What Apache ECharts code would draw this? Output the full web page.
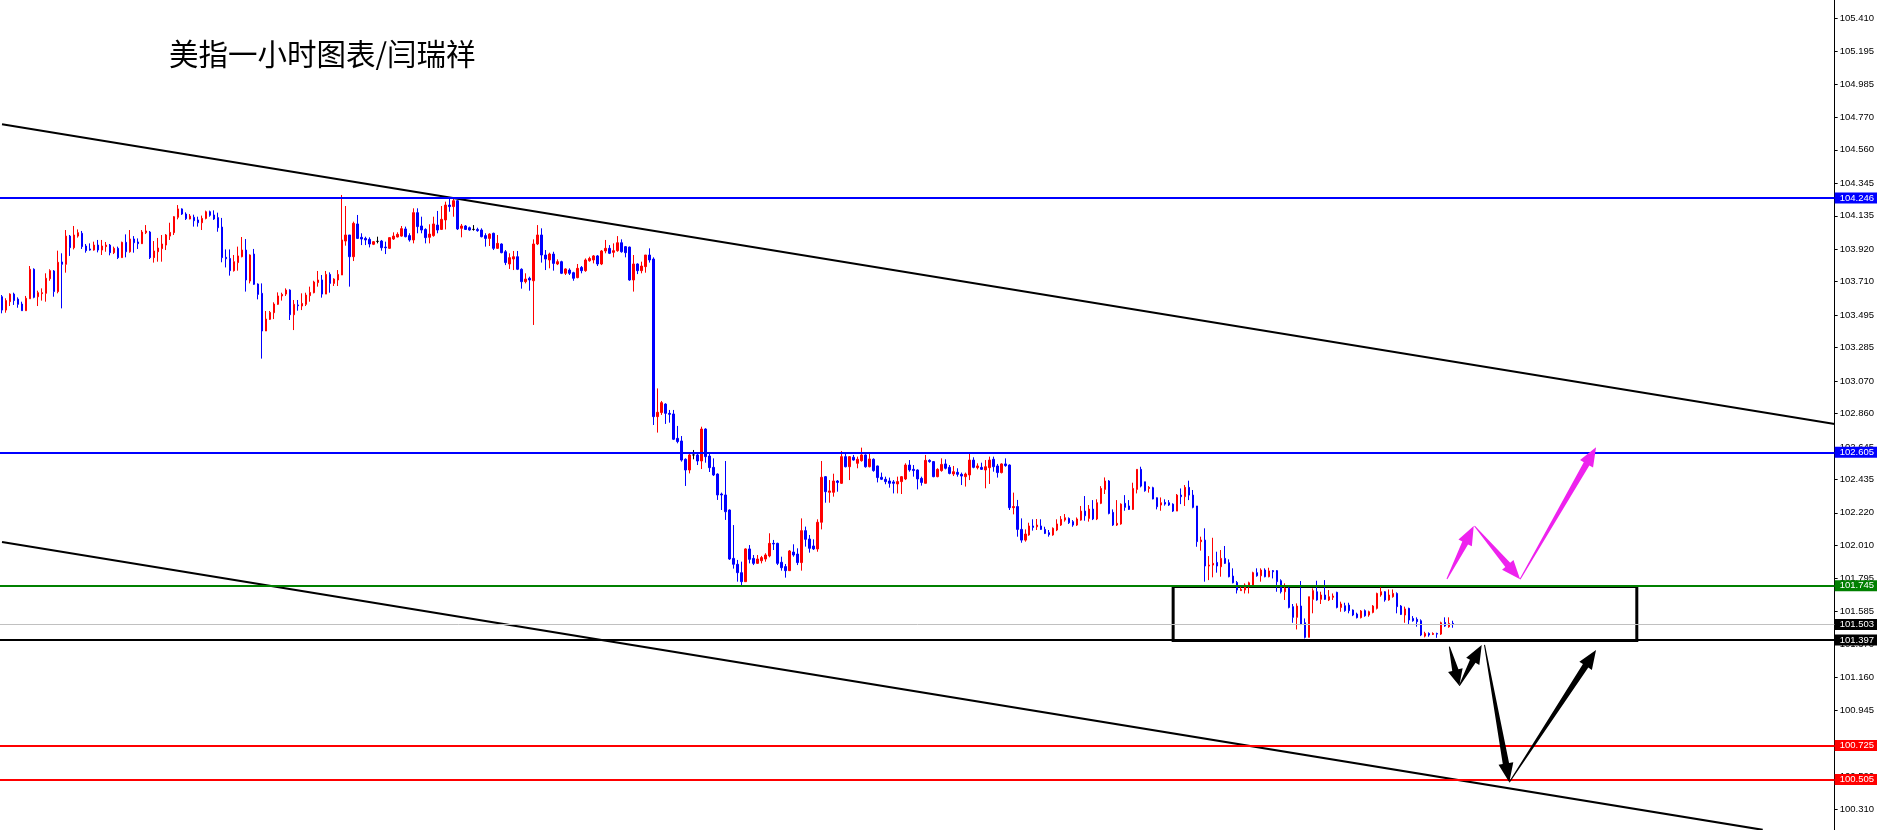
<!DOCTYPE html>
<html><head><meta charset="utf-8">
<script src="https://cdn.jsdelivr.net/npm/echarts@6/dist/echarts.min.js"></script>
<style>html,body{margin:0;padding:0;background:#fff}#c{width:1877px;height:830px}</style>
</head><body><div id="c"></div>
<script>
const TITLE = '美指一小时图表/闫瑞祥';
const SLOTS = 459;
// [open, close, low, high] per hourly bar
const bars = [
[103.613,103.527,103.506,103.624],[103.527,103.588,103.510,103.603],[103.581,103.630,103.553,103.635],[103.630,103.588,103.560,103.639],
[103.598,103.564,103.542,103.609],[103.566,103.523,103.523,103.581],[103.523,103.603,103.523,103.618],[103.600,103.790,103.600,103.811],
[103.790,103.609,103.603,103.796],[103.613,103.639,103.553,103.652],[103.633,103.639,103.588,103.667],[103.635,103.732,103.581,103.764],
[103.729,103.781,103.716,103.790],[103.779,103.646,103.613,103.785],[103.646,103.835,103.635,103.910],[103.837,103.822,103.538,103.893],
[103.822,104.004,103.768,104.043],[104.004,103.929,103.876,104.011],[103.929,104.011,103.918,104.069],[104.004,104.026,103.994,104.047],
[104.022,103.936,103.921,104.037],[103.940,103.910,103.897,103.953],[103.921,103.914,103.910,103.957],[103.914,103.946,103.910,103.968],
[103.946,103.914,103.899,103.979],[103.914,103.940,103.882,103.979],[103.936,103.946,103.903,103.966],[103.946,103.897,103.880,103.953],
[103.897,103.925,103.888,103.936],[103.925,103.865,103.856,103.936],[103.865,103.964,103.865,103.968],[103.964,103.903,103.867,104.015],
[103.903,103.985,103.897,104.043],[103.985,103.961,103.897,104.004],[103.966,103.955,103.921,103.989],[103.955,104.030,103.953,104.043],
[104.026,104.037,104.017,104.075],[104.030,103.865,103.856,104.037],[103.865,103.908,103.833,103.972],[103.903,103.927,103.839,103.992],
[103.923,103.953,103.839,104.011],[103.946,104.011,103.914,104.017],[104.004,104.028,103.979,104.090],[104.026,104.129,104.011,104.133],
[104.125,104.179,104.112,104.204],[104.179,104.146,104.140,104.183],[104.146,104.116,104.108,104.157],[104.114,104.133,104.112,104.146],
[104.125,104.103,104.065,104.142],[104.108,104.090,104.065,104.129],[104.090,104.118,104.043,104.136],[104.118,104.161,104.112,104.168],
[104.161,104.138,104.129,104.168],[104.140,104.114,104.108,104.170],[104.123,104.058,104.032,104.155],[104.062,103.865,103.835,104.121],
[103.867,103.858,103.802,103.918],[103.860,103.781,103.749,103.918],[103.781,103.839,103.775,103.882],[103.833,103.876,103.781,103.936],
[103.871,103.914,103.867,103.998],[103.914,103.721,103.646,103.985],[103.714,103.882,103.699,103.886],[103.888,103.693,103.689,103.921],
[103.695,103.628,103.596,103.699],[103.635,103.392,103.214,103.699],[103.392,103.469,103.392,103.521],[103.467,103.512,103.463,103.521],
[103.510,103.566,103.469,103.577],[103.564,103.618,103.560,103.641],[103.618,103.628,103.588,103.639],[103.630,103.656,103.618,103.667],
[103.656,103.497,103.463,103.661],[103.497,103.564,103.398,103.592],[103.560,103.555,103.523,103.592],[103.553,103.570,103.527,103.635],
[103.564,103.624,103.553,103.639],[103.620,103.641,103.581,103.678],[103.639,103.708,103.635,103.716],[103.704,103.721,103.678,103.779],
[103.721,103.630,103.607,103.753],[103.630,103.757,103.630,103.779],[103.757,103.699,103.639,103.770],[103.699,103.727,103.682,103.732],
[103.721,103.757,103.682,103.785],[103.753,103.979,103.753,104.269],[103.972,104.011,103.942,104.198],[104.011,103.871,103.678,104.011],
[103.871,104.086,103.843,104.097],[104.082,103.989,103.985,104.140],[103.996,103.985,103.946,104.022],[103.989,103.979,103.946,104.000],
[103.983,103.953,103.931,103.996],[103.951,103.968,103.946,103.972],[103.970,103.970,103.957,104.000],[103.972,103.929,103.910,103.979],
[103.933,103.929,103.888,103.968],[103.925,103.994,103.921,103.996],[103.985,104.004,103.979,104.028],[103.998,104.015,103.996,104.028],
[104.004,104.052,104.000,104.069],[104.050,104.000,103.996,104.065],[104.007,103.979,103.968,104.022],[103.979,104.155,103.957,104.183],
[104.155,104.065,104.022,104.183],[104.069,104.043,104.022,104.129],[104.047,103.994,103.957,104.054],[103.996,104.017,103.957,104.080],
[104.007,104.082,104.000,104.129],[104.075,104.043,104.022,104.166],[104.047,104.112,104.043,104.198],[104.108,104.204,104.047,104.226],
[104.204,104.194,104.161,104.247],[104.194,104.232,104.129,104.247],[104.232,104.050,104.043,104.237],[104.054,104.069,103.996,104.082],
[104.069,104.047,104.043,104.075],[104.058,104.043,104.039,104.065],[104.047,104.047,104.039,104.075],[104.047,104.039,104.032,104.058],
[104.043,104.000,103.996,104.054],[104.007,103.989,103.936,104.022],[103.989,104.017,103.940,104.022],[104.022,103.925,103.914,104.026],
[103.925,103.957,103.921,104.011],[103.953,103.897,103.893,103.957],[103.903,103.833,103.817,103.914],[103.824,103.865,103.792,103.893],
[103.856,103.871,103.785,103.908],[103.871,103.790,103.785,103.908],[103.790,103.710,103.665,103.796],[103.710,103.727,103.699,103.764],
[103.732,103.721,103.652,103.742],[103.716,103.953,103.431,103.983],[103.953,104.011,103.946,104.075],[104.011,103.882,103.833,104.054],
[103.882,103.856,103.785,103.914],[103.850,103.888,103.796,103.897],[103.888,103.828,103.781,103.903],[103.824,103.839,103.817,103.854],
[103.839,103.764,103.759,103.845],[103.764,103.792,103.753,103.796],[103.785,103.764,103.753,103.796],[103.768,103.732,103.716,103.774],
[103.736,103.796,103.732,103.824],[103.802,103.781,103.764,103.811],[103.781,103.850,103.774,103.860],[103.845,103.860,103.839,103.871],
[103.850,103.876,103.828,103.882],[103.876,103.824,103.811,103.882],[103.824,103.908,103.817,103.914],[103.908,103.925,103.893,103.979],
[103.925,103.893,103.888,103.946],[103.899,103.910,103.867,103.957],[103.910,103.961,103.903,104.004],[103.961,103.903,103.897,103.983],
[103.936,103.897,103.867,103.940],[103.933,103.721,103.716,103.936],[103.721,103.824,103.646,103.882],[103.824,103.781,103.759,103.828],
[103.781,103.811,103.764,103.839],[103.807,103.882,103.768,103.882],[103.882,103.850,103.833,103.925],[103.856,102.840,102.786,103.867],
[102.840,102.868,102.737,103.022],[102.866,102.930,102.851,102.941],[102.921,102.861,102.793,102.926],[102.861,102.855,102.801,102.883],
[102.857,102.694,102.689,102.883],[102.700,102.679,102.668,102.780],[102.683,102.560,102.550,102.715],[102.565,102.496,102.393,102.571],
[102.496,102.593,102.474,102.599],[102.593,102.593,102.565,102.625],[102.593,102.554,102.528,102.603],[102.554,102.760,102.502,102.775],
[102.760,102.582,102.543,102.765],[102.586,102.511,102.483,102.603],[102.513,102.464,102.457,102.571],[102.470,102.335,102.303,102.474],
[102.341,102.335,102.238,102.350],[102.335,102.227,102.174,102.554],[102.238,101.922,101.916,102.242],[101.926,101.888,101.860,102.141],
[101.888,101.834,101.776,101.916],[101.834,101.776,101.748,101.905],[101.776,101.987,101.776,101.991],[101.987,101.920,101.894,102.012],
[101.926,101.894,101.883,101.948],[101.894,101.922,101.890,101.948],[101.911,101.931,101.894,101.942],[101.922,101.948,101.905,101.959],
[101.942,102.023,101.933,102.088],[102.023,102.019,101.980,102.045],[102.023,101.894,101.883,102.027],[101.901,101.866,101.847,101.937],
[101.873,101.847,101.802,101.890],[101.847,101.974,101.847,101.980],[101.967,101.948,101.937,102.017],[101.954,101.899,101.883,101.991],
[101.899,102.105,101.847,102.184],[102.105,102.049,102.002,102.131],[102.051,101.991,101.963,102.077],[102.006,101.987,101.980,102.049],
[101.987,102.159,101.969,102.178],[102.159,102.449,102.113,102.554],[102.453,102.356,102.285,102.457],[102.352,102.361,102.285,102.431],
[102.352,102.425,102.324,102.472],[102.425,102.416,102.356,102.431],[102.410,102.582,102.406,102.618],[102.582,102.517,102.513,102.603],
[102.517,102.582,102.431,102.586],[102.578,102.560,102.556,102.593],[102.539,102.565,102.507,102.582],[102.556,102.593,102.550,102.640],
[102.593,102.517,102.511,102.597],[102.517,102.567,102.513,102.599],[102.565,102.492,102.485,102.571],[102.522,102.447,102.416,102.524],
[102.449,102.436,102.431,102.479],[102.436,102.421,102.404,102.453],[102.425,102.410,102.382,102.447],[102.419,102.410,102.345,102.431],
[102.406,102.421,102.345,102.453],[102.421,102.453,102.341,102.457],[102.438,102.528,102.431,102.539],[102.528,102.496,102.485,102.560],
[102.500,102.492,102.453,102.528],[102.496,102.438,102.371,102.500],[102.442,102.416,102.395,102.453],[102.410,102.558,102.410,102.593],
[102.558,102.550,102.543,102.565],[102.550,102.453,102.449,102.554],[102.453,102.500,102.449,102.507],[102.492,102.532,102.485,102.571],
[102.535,102.507,102.500,102.565],[102.513,102.474,102.468,102.528],[102.470,102.485,102.457,102.522],[102.481,102.468,102.453,102.507],
[102.468,102.457,102.399,102.479],[102.453,102.470,102.389,102.479],[102.464,102.560,102.431,102.603],[102.560,102.513,102.507,102.578],
[102.511,102.522,102.500,102.539],[102.513,102.500,102.496,102.543],[102.496,102.517,102.378,102.560],[102.511,102.560,102.406,102.582],
[102.565,102.517,102.485,102.582],[102.522,102.479,102.447,102.535],[102.479,102.535,102.474,102.539],[102.535,102.524,102.517,102.571],
[102.528,102.253,102.238,102.532],[102.253,102.260,102.210,102.350],[102.260,102.113,102.066,102.303],[102.113,102.044,102.027,102.184],
[102.044,102.083,102.034,102.113],[102.077,102.135,102.072,102.156],[102.135,102.126,102.105,102.178],[102.130,102.141,102.109,102.180],
[102.135,102.113,102.109,102.178],[102.113,102.087,102.083,102.130],[102.092,102.079,102.066,102.109],[102.077,102.120,102.072,102.126],
[102.109,102.148,102.102,102.178],[102.141,102.178,102.135,102.199],[102.173,102.188,102.163,102.212],[102.184,102.156,102.148,102.190],
[102.163,102.141,102.130,102.173],[102.141,102.180,102.135,102.190],[102.173,102.231,102.169,102.264],[102.231,102.201,102.169,102.328],
[102.184,102.244,102.163,102.270],[102.244,102.180,102.173,102.302],[102.180,102.285,102.173,102.307],[102.281,102.377,102.276,102.392],
[102.371,102.425,102.341,102.448],[102.425,102.216,102.210,102.431],[102.223,102.141,102.135,102.242],[102.141,102.152,102.135,102.302],
[102.148,102.276,102.143,102.281],[102.281,102.255,102.233,102.334],[102.264,102.242,102.238,102.302],[102.242,102.377,102.238,102.414],
[102.371,102.500,102.345,102.500],[102.500,102.392,102.384,102.517],[102.420,102.362,102.356,102.420],[102.377,102.384,102.350,102.392],
[102.382,102.309,102.307,102.388],[102.317,102.259,102.242,102.319],[102.270,102.285,102.233,102.319],[102.287,102.276,102.266,102.307],
[102.285,102.270,102.264,102.302],[102.276,102.231,102.225,102.281],[102.231,102.334,102.231,102.341],[102.334,102.324,102.276,102.377],
[102.324,102.384,102.264,102.399],[102.384,102.334,102.302,102.427],[102.334,102.255,102.249,102.367],[102.264,102.034,102.001,102.264],
[102.034,102.044,101.976,102.066],[102.044,101.877,101.776,102.120],[101.877,101.883,101.786,101.941],[101.883,101.894,101.804,102.059],
[101.900,101.877,101.834,101.969],[101.872,101.926,101.808,101.980],[101.926,101.894,101.890,102.006],[101.898,101.808,101.804,101.920],
[101.812,101.769,101.765,101.862],[101.771,101.722,101.700,101.780],[101.718,101.726,101.718,101.754],[101.722,101.754,101.700,101.765],
[101.744,101.769,101.700,101.776],[101.754,101.834,101.750,101.840],[101.834,101.814,101.808,101.862],[101.814,101.851,101.776,101.862],
[101.851,101.808,101.804,101.862],[101.808,101.845,101.804,101.866],[101.847,101.840,101.797,101.851],[101.847,101.776,101.711,101.851],
[101.782,101.711,101.700,101.791],[101.711,101.733,101.658,101.765],[101.733,101.610,101.604,101.744],[101.615,101.546,101.511,101.632],
[101.546,101.619,101.468,101.636],[101.619,101.503,101.496,101.780],[101.511,101.417,101.410,101.539],[101.417,101.679,101.417,101.679],
[101.662,101.718,101.572,101.733],[101.711,101.658,101.653,101.782],[101.662,101.690,101.632,101.711],[101.690,101.662,101.658,101.786],
[101.658,101.679,101.651,101.722],[101.675,101.683,101.658,101.700],[101.707,101.610,101.604,101.711],[101.610,101.632,101.582,101.647],
[101.621,101.589,101.582,101.640],[101.625,101.589,101.572,101.640],[101.593,101.561,101.554,101.597],[101.567,101.544,101.539,101.576],
[101.544,101.587,101.539,101.593],[101.589,101.556,101.550,101.597],[101.561,101.582,101.550,101.589],[101.578,101.619,101.572,101.625],
[101.604,101.700,101.597,101.705],[101.690,101.711,101.679,101.739],[101.711,101.658,101.647,101.715],[101.658,101.690,101.653,101.726],
[101.679,101.700,101.673,101.726],[101.700,101.615,101.572,101.707],[101.619,101.565,101.561,101.625],[101.561,101.600,101.511,101.615],
[101.604,101.529,101.503,101.608],[101.539,101.524,101.518,101.554],[101.533,101.518,101.486,101.546],[101.524,101.432,101.425,101.533],
[101.425,101.442,101.417,101.453],[101.442,101.432,101.421,101.449],[101.436,101.442,101.432,101.449],[101.442,101.438,101.414,101.447],
[101.438,101.511,101.432,101.518],[101.513,101.490,101.485,101.546],[101.485,101.507,101.479,101.546],[101.507,101.503,101.479,101.524]
];
const yTicks = [105.410,105.195,104.985,104.770,104.560,104.345,104.135,103.920,103.710,103.495,103.285,103.070,102.860,
  102.645,102.435,102.220,102.010,101.795,101.585,101.370,101.160,100.945,100.735,100.520,100.310];
const yMin = 100.175, yMax = 105.526;
const levelPrices = [104.246, 102.605, 101.745, 101.503, 101.397, 100.725, 100.505];
const boxIndexRange = [293, 409];
const boxPriceRange = [101.745, 101.397];
const upperTrend = [[0, 104.725], [458.5, 102.792]];
const lowerTrend = [[0, 102.032], [440.5, 100.176]];
const pinkArrows = [[361.5,101.793,368.2,102.135],[368.4,102.135,379.8,101.791],[379.8,101.791,398.8,102.642]];
const blackArrows = [[362.1,101.357,364.6,101.105],[364.6,101.105,370.2,101.368],[370.9,101.368,377.1,100.483],[377.1,100.483,398.8,101.336]];

// styling (kept apart from data)
const levelLook = {
  '104.246': {line:'#0000ff', w:2, bg:'#0000ff'},
  '102.605': {line:'#0000ff', w:2, bg:'#0000ff'},
  '101.745': {line:'#008000', w:2, bg:'#008000'},
  '101.503': {line:'#c0c0c0', w:1, bg:'#000000'},
  '101.397': {line:'#000000', w:2, bg:'#000000'},
  '100.725': {line:'#ff0000', w:2, bg:'#ff0000'},
  '100.505': {line:'#ff0000', w:2, bg:'#ff0000'}
};
const AXFONT = 'Liberation Sans, Arial, sans-serif';

const cats = Array.from({length: SLOTS}, (_, i) => String(i));

function arrowRenderer(color) {
  return function (params, api) {
    const a = api.coord([api.value(0), api.value(1)]);
    const b = api.coord([api.value(2), api.value(3)]);
    const dx = b[0] - a[0], dy = b[1] - a[1];
    const L = Math.hypot(dx, dy);
    const ux = dx / L, uy = dy / L, nx = -uy, ny = ux;
    const hl = Math.min(19, L * 0.4), hw = 7.5, sw = 3.2, tw = 0.5;
    const bx = b[0] - ux * hl, by = b[1] - uy * hl;
    const pts = [
      [a[0] + nx * tw, a[1] + ny * tw], [bx + nx * sw, by + ny * sw], [bx + nx * hw, by + ny * hw],
      [b[0], b[1]], [bx - nx * hw, by - ny * hw], [bx - nx * sw, by - ny * sw], [a[0] - nx * tw, a[1] - ny * tw]
    ];
    return { type: 'polygon', shape: { points: pts }, style: { fill: color } };
  };
}

const chart = echarts.init(document.getElementById('c'), null, { renderer: 'canvas' });
chart.setOption({
  animation: false,
  backgroundColor: '#ffffff',
  title: {
    text: TITLE, left: 164, top: 33,
    textStyle: { fontFamily: 'Noto Sans CJK SC', fontSize: 29.5, fontWeight: 'normal', color: '#000', lineHeight: 32 }
  },
  grid: { left: -2, right: 41, top: 0, bottom: 0, containLabel: false },
  xAxis: [
    { type: 'category', data: cats, show: false, boundaryGap: true },
    { type: 'value', min: -0.5, max: SLOTS - 0.5, show: false }
  ],
  yAxis: {
    type: 'value', position: 'right', min: yMin, max: yMax, scale: true,
    splitLine: { show: false },
    axisLine: { show: true, onZero: false, lineStyle: { color: '#000', width: 1 } },
    axisTick: { show: true, length: 3, customValues: yTicks, lineStyle: { color: '#000' } },
    axisLabel: { show: true, customValues: yTicks, margin: 5, fontSize: 9.5, fontFamily: AXFONT, color: '#000',
      formatter: v => Number(v).toFixed(3) }
  },
  series: [
    {
      type: 'candlestick', xAxisIndex: 0, yAxisIndex: 0,
      data: bars, barWidth: 2,
      itemStyle: { color: '#ff0000', color0: '#0000ff', borderColor: '#ff0000', borderColor0: '#0000ff',
        borderColorDoji: '#000000', borderWidth: 1 },
      silent: true,
      markLine: {
        silent: true, symbol: ['none', 'none'], animation: false,
        data: levelPrices.map(p => {
          const k = p.toFixed(3), s = levelLook[k];
          return {
            yAxis: p,
            lineStyle: { color: s.line, width: s.w, type: 'solid' },
            label: { show: true, position: 'end', distance: 0, formatter: k, color: '#fff',
              backgroundColor: s.bg, padding: [1, 3, 0, 5], fontSize: 9.5, fontFamily: AXFONT }
          };
        })
      }
    },
    {
      type: 'line', xAxisIndex: 1, data: upperTrend, symbol: 'none', silent: true,
      lineStyle: { color: '#000', width: 2 },
      markArea: {
        silent: true,
        itemStyle: { color: 'rgba(0,0,0,0)', borderColor: '#000', borderWidth: 3 },
        data: [[{ xAxis: boxIndexRange[0], yAxis: boxPriceRange[0] }, { xAxis: boxIndexRange[1], yAxis: boxPriceRange[1] }]]
      }
    },
    { type: 'line', xAxisIndex: 1, data: lowerTrend, symbol: 'none', silent: true, lineStyle: { color: '#000', width: 2 } },
    { type: 'custom', xAxisIndex: 1, data: pinkArrows, encode: { x: [0, 2], y: [1, 3] }, renderItem: arrowRenderer('#ee22ee'), silent: true, z: 5 },
    { type: 'custom', xAxisIndex: 1, data: blackArrows, encode: { x: [0, 2], y: [1, 3] }, renderItem: arrowRenderer('#000000'), silent: true, z: 5 }
  ]
});
</script>
</body></html>
